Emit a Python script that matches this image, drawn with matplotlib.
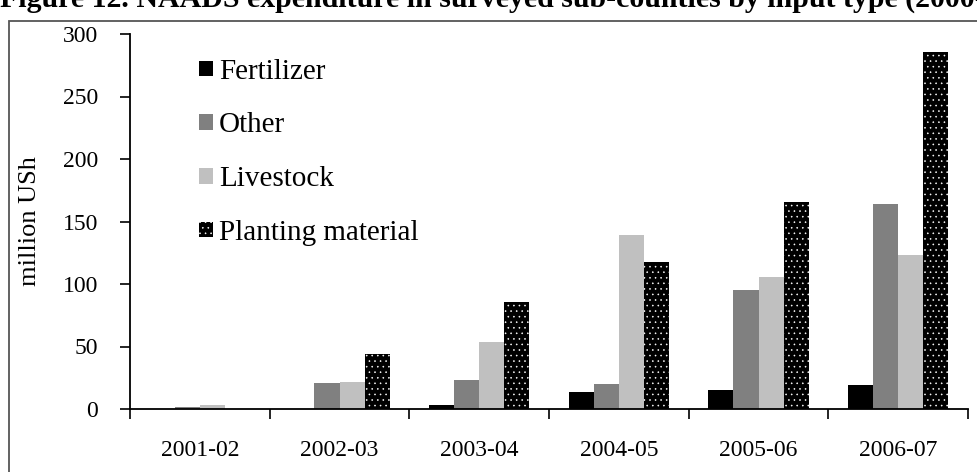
import numpy as np
import matplotlib
matplotlib.use("Agg")
import matplotlib.pyplot as plt
from matplotlib.patches import Rectangle

years = ["2001-02", "2002-03", "2003-04", "2004-05", "2005-06", "2006-07"]
fertilizer = [0, 0, 3, 14, 15, 19]
other = [2, 21, 23, 20, 95, 164]
livestock = [3, 22, 54, 139, 106, 123]
planting = [0, 44, 86, 118, 166, 286]

series = ["Fertilizer", "Other", "Livestock", "Planting material"]
values = [fertilizer, other, livestock, planting]
colors = ["black", "#808080", "#c0c0c0", "black"]

plt.rcParams["font.family"] = ["Liberation Serif", "DejaVu Serif"]
plt.rcParams["hatch.linewidth"] = 0.4

fig = plt.figure(figsize=(9.77, 4.72), dpi=100)
ax = fig.add_axes([130 / 977, 1 - 409 / 472, 838 / 977, 375 / 472])

ind = np.arange(len(years))
width = 0.18
offsets = [-1.5, -0.5, 0.5, 1.5]

for name, vals, c, off in zip(series, values, colors, offsets):
    if name == "Planting material":
        ax.bar(ind + off * width, vals, width, color="black",
               edgecolor="white", linewidth=0, hatch="...", label=name)
    else:
        ax.bar(ind + off * width, vals, width, color=c,
               linewidth=0, label=name)

ax.set_xlim(-0.5, len(years) - 0.5)
ax.set_ylim(0, 300)
ax.set_yticks(range(0, 301, 50))
ax.set_xticks(np.arange(-0.5, len(years), 1.0))
ax.set_xticklabels([])
ax.set_xticks(ind, minor=True)
ax.set_xticklabels(years, minor=True)
ax.tick_params(axis="x", which="minor", length=0, pad=22, labelsize=17)
ax.tick_params(axis="x", which="major", length=7, width=1.2, direction="out")
ax.tick_params(axis="y", length=7, width=1.2, labelsize=17, pad=16)

for s in ["top", "right"]:
    ax.spines[s].set_visible(False)
for s in ["left", "bottom"]:
    ax.spines[s].set_linewidth(1.3)

ax.set_ylabel("million USh", fontsize=19, labelpad=15.5)

leg = ax.legend(loc="upper left", bbox_to_anchor=(0.082, 0.934), frameon=False,
                fontsize=21, handlelength=0.5, handleheight=0.45,
                handletextpad=0.2, labelspacing=0.95, borderpad=0,
                borderaxespad=0)

fig.text(0.0, 1 - 7 / 472,
         "Figure 12. NAADS expenditure in surveyed sub-counties by input type (2000-07)",
         fontsize=21.5, fontweight="bold", ha="left", va="baseline")

frame = Rectangle((8.5 / 977, -0.1), 1.2, 1.1 - 21 / 472,
                  transform=fig.transFigure, fill=False,
                  edgecolor="#555555", linewidth=1.3)
fig.patches.append(frame)

fig.savefig("out.png", dpi=100)
